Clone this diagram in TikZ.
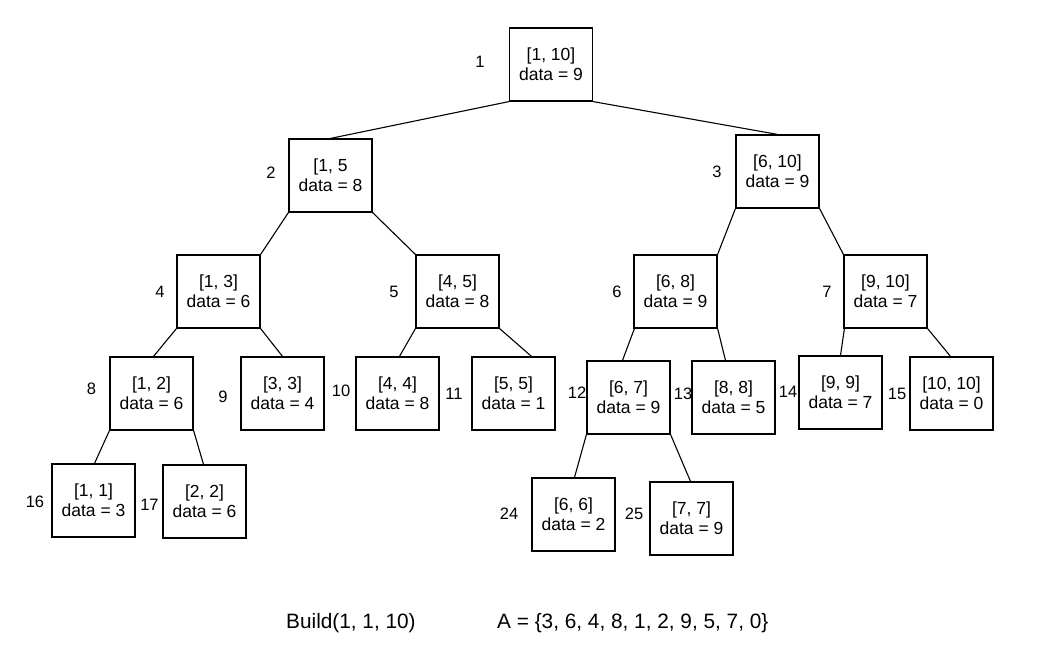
\documentclass[tikz,border=0pt]{standalone}
\usepackage{fontspec}
\setmainfont{Liberation Sans}
\usetikzlibrary{calc}
\begin{document}
\begin{tikzpicture}[x=1pt,y=-1pt,
  segbox/.style={draw, line width=1.2pt, minimum width=83pt, minimum height=73pt,
    inner sep=0pt, align=center, font=\fontsize{17.5}{20}\selectfont},
  idx/.style={inner sep=0pt, font=\fontsize{16.5}{19.4}\selectfont},
  edge/.style={line width=1.1pt},
  caption/.style={inner sep=0pt, anchor=base west, font=\fontsize{20.8}{24}\selectfont}]
\useasboundingbox (0,0) rectangle (1051,658);

% segment tree nodes (centre positions)
\node[segbox] (n1)  at (551,64.5)  {[1, 10]\\data = 9};
\node[segbox] (n2)  at (330.5,175.5) {[1, 5\\data = 8};
\node[segbox] (n3)  at (777.5,171.5) {[6, 10]\\data = 9};
\node[segbox] (n4)  at (218.5,291.5) {[1, 3]\\data = 6};
\node[segbox] (n5)  at (457.5,291.5) {[4, 5]\\data = 8};
\node[segbox] (n6)  at (675.5,291.5) {[6, 8]\\data = 9};
\node[segbox] (n7)  at (885.5,291.5) {[9, 10]\\data = 7};
\node[segbox] (n8)  at (151.5,393.5) {[1, 2]\\data = 6};
\node[segbox] (n9)  at (282.5,393.5) {[3, 3]\\data = 4};
\node[segbox] (n10) at (397.5,393.5) {[4, 4]\\data = 8};
\node[segbox] (n11) at (513.5,393.5) {[5, 5]\\data = 1};
\node[segbox] (n12) at (628.5,397.5) {[6, 7]\\data = 9};
\node[segbox] (n13) at (733.5,397.5) {[8, 8]\\data = 5};
\node[segbox] (n14) at (840.5,392.5) {[9, 9]\\data = 7};
\node[segbox] (n15) at (951.5,393.5) {[10, 10]\\data = 0};
\node[segbox] (n16) at (93.5,500.5)  {[1, 1]\\data = 3};
\node[segbox] (n17) at (204.5,501.5) {[2, 2]\\data = 6};
\node[segbox] (n24) at (573.5,514.5) {[6, 6]\\data = 2};
\node[segbox] (n25) at (691.5,518.5) {[7, 7]\\data = 9};

% array indices of the nodes
\node[idx] (i1)  at (480,61.5)  {1};
\node[idx] (i2)  at (271,173)   {2};
\node[idx] (i3)  at (717,172)   {3};
\node[idx] (i4)  at (160,292)   {4};
\node[idx] (i5)  at (394,292)   {5};
\node[idx] (i6)  at (617,292)   {6};
\node[idx] (i7)  at (827,292)   {7};
\node[idx] (i8)  at (91.5,389)  {8};
\node[idx] (i9)  at (223,397)   {9};
\node[idx] (i10) at (341,391)   {10};
\node[idx] (i11) at (454,394)   {11};
\node[idx] (i12) at (577,392.5) {12};
\node[idx] (i13) at (683,394)   {13};
\node[idx] (i14) at (788,392)   {14};
\node[idx] (i15) at (897,394)   {15};
\node[idx] (i16) at (35,502)    {16};
\node[idx] (i17) at (149.5,505) {17};
\node[idx] (i24) at (509,514)   {24};
\node[idx] (i25) at (634,514)   {25};

% tree edges
\draw[edge] (n1.south west) -- (n2.north);
\draw[edge] (n1.south east) -- (n3.north);
\draw[edge] (n2.south west) -- (n4.north east);
\draw[edge] (n2.south east) -- (n5.north west);
\draw[edge] (n3.south west) -- (n6.north east);
\draw[edge] (n3.south east) -- (n7.north west);
\draw[edge] (n4.south west) -- ($(n8.north)+(2,0)$);
\draw[edge] (n4.south east) -- (n9.north);
\draw[edge] (n5.south west) -- ($(n10.north)+(2,0)$);
\draw[edge] (n5.south east) -- ($(n11.north)+(18,0)$);
\draw[edge] ($(n6.south west)+(1,0)$) -- ($(n12.north)+(-6,0)$);
\draw[edge] (n6.south east) -- ($(n13.north)+(-8,0)$);
\draw[edge] ($(n7.south west)+(1,0)$) -- ($(n14.north)+(0,0)$);
\draw[edge] (n7.south east) -- ($(n15.north)+(-1,0)$);
\draw[edge] (n8.south west) -- ($(n16.north)+(1,0)$);
\draw[edge] (n8.south east) -- ($(n17.north)+(-1,0)$);
\draw[edge] (n12.south west) -- ($(n24.north)+(1,0)$);
\draw[edge] (n12.south east) -- ($(n25.north)+(-1,0)$);

% call and input array
\node[caption] (build) at (286,628) {Build(1, 1, 10)};
\node[caption] (arr)   at (497,628) {A = \{3, 6, 4, 8, 1, 2, 9, 5, 7, 0\}};
\end{tikzpicture}
\end{document}
